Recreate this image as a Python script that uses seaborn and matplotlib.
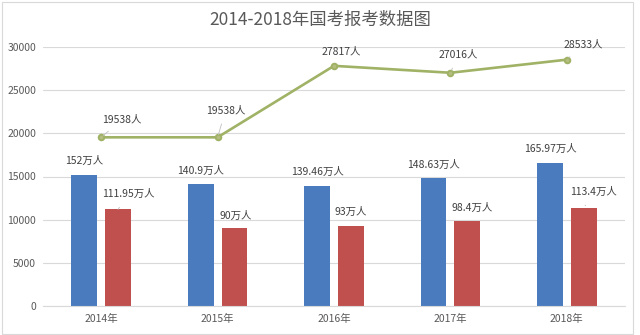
import matplotlib
matplotlib.use("Agg")
import matplotlib.pyplot as plt
from matplotlib.patches import Rectangle
import seaborn as sns
import pandas as pd

# ---- data ----
years = ["2014年", "2015年", "2016年", "2017年", "2018年"]
registered_wan = [152, 140.9, 139.46, 148.63, 165.97]      # 万人 (blue bars)
approved_wan = [111.95, 90, 93, 98.4, 113.4]               # 万人 (red bars)
recruits = [19538, 19538, 27817, 27016, 28533]             # 人 (line)
registered_labels = ["152万人", "140.9万人", "139.46万人", "148.63万人", "165.97万人"]
approved_labels = ["111.95万人", "90万人", "93万人", "98.4万人", "113.4万人"]
recruit_labels = ["19538人", "19538人", "27817人", "27016人", "28533人"]
yticks = [0, 5000, 10000, 15000, 20000, 25000, 30000]
title = "2014-2018年国考报考数据图"

# plotted bar heights: 万人 shown in hundreds on the shared axis
bars_df = pd.DataFrame({
    "year": years * 2,
    "series": ["报名人数"] * 5 + ["过审人数"] * 5,
    "value": [v * 100 for v in registered_wan] + [v * 100 for v in approved_wan],
})
line_df = pd.DataFrame({"year": years, "value": recruits})

# ---- style ----
sns.set_theme(style="white")
plt.rcParams["font.family"] = ["Noto Sans CJK SC", "DejaVu Sans"]
TEXT = "#404040"
GRID = "#D9D9D9"
BLUE = "#4A7BBF"
RED = "#C0504D"
GREEN = "#A0B265"

fig = plt.figure(figsize=(6.4, 3.35), dpi=100)
ax = fig.add_axes([43 / 640, 1 - 306 / 335, 582 / 640, 259 / 335])

sns.barplot(data=bars_df, x="year", y="value", hue="series",
            palette=[BLUE, RED], width=0.58, gap=0.24, ax=ax,
            legend=False, saturation=1, edgecolor="none")
sns.pointplot(data=line_df, x="year", y="value", color=GREEN, ax=ax,
              errorbar=None, markers="o", markersize=4, linewidth=1.9,
              markerfacecolor="#B5BD80", markeredgecolor=GREEN, zorder=5)

ax.set_xlim(-0.5, 4.5)
ax.set_ylim(0, 30000)
ax.set_yticks(yticks)
ax.set_yticklabels([str(t) for t in yticks])
ax.set_xlabel("")
ax.set_ylabel("")
ax.yaxis.grid(True, color=GRID, linewidth=0.8)
ax.set_axisbelow(True)
for s in ["top", "right", "left"]:
    ax.spines[s].set_visible(False)
ax.spines["bottom"].set_color(GRID)
ax.spines["bottom"].set_linewidth(0.8)
ax.tick_params(axis="both", length=0, labelsize=7.5, labelcolor="#595959")
ax.tick_params(axis="y", pad=5)
ax.tick_params(axis="x", pad=6)

# ---- labels ----
lead = dict(arrowstyle="-", color="#BFBFBF", lw=0.6, shrinkA=4, shrinkB=2)

blue_off = [(0, 14), (0, 13), (0, 14), (0, 13), (0, 14)]
red_off = [(10, 15), (1, 12), (0, 14), (5, 13), (10, 16)]
red_lead = [True, False, False, False, True]
for bar, lab, off in zip(ax.containers[0], registered_labels, blue_off):
    x = bar.get_x() + bar.get_width() / 2
    ax.annotate(lab, (x, bar.get_height()), xytext=off, textcoords="offset pixels",
                ha="center", va="center", fontsize=7.5, color=TEXT)
for bar, lab, off, ld in zip(ax.containers[1], approved_labels, red_off, red_lead):
    x = bar.get_x() + bar.get_width() / 2
    ax.annotate(lab, (x, bar.get_height()), xytext=off, textcoords="offset pixels",
                ha="center", va="center", fontsize=7.5, color=TEXT,
                arrowprops=lead if ld else None)

line_off = [(21, 18), (8, 27), (7, 14), (8, 18), (16, 15)]
line_lead = [True, True, False, True, True]
for i, (lab, off, ld) in enumerate(zip(recruit_labels, line_off, line_lead)):
    ax.annotate(lab, (i, recruits[i]), xytext=off, textcoords="offset pixels",
                ha="center", va="center", fontsize=7.5, color=TEXT,
                arrowprops=lead if ld else None, zorder=6)

fig.text(0.5, 1 - 20 / 335, title, ha="center", va="center",
         fontsize=12.5, color="#595959")

fig.add_artist(Rectangle((2 / 640, 1 / 335), 631 / 640, 332 / 335,
                         transform=fig.transFigure, fill=False,
                         edgecolor=GRID, linewidth=0.8))

fig.savefig("out.png", dpi=100, facecolor="white")
